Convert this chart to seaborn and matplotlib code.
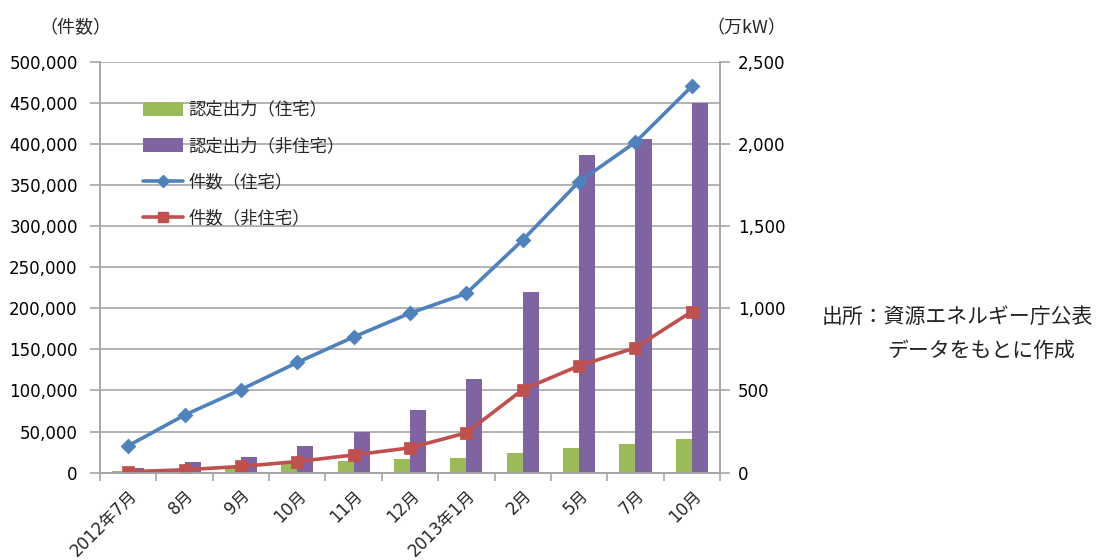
import matplotlib
matplotlib.use("Agg")
import matplotlib.pyplot as plt
import seaborn as sns
import pandas as pd
from matplotlib.patches import Patch
from matplotlib.lines import Line2D
from matplotlib.ticker import FuncFormatter, MultipleLocator

# ---- data ----
months = ["2012年7月", "8月", "9月", "10月", "11月", "12月", "2013年1月", "2月", "5月", "7月", "10月"]
out_res = [9, 23, 38, 58, 73, 82, 92, 120, 149, 172, 202]            # 認定出力（住宅） 万kW
out_nonres = [27, 66, 96, 162, 250, 380, 570, 1096, 1930, 2028, 2249]  # 認定出力（非住宅） 万kW
cnt_res = [32600, 70000, 101000, 134000, 165000, 194000, 218000, 283000, 354000, 402000, 470000]
cnt_nonres = [1000, 3500, 7500, 13500, 21500, 30200, 48400, 101000, 130000, 152000, 196000]
series_bar = ["認定出力（住宅）", "認定出力（非住宅）"]
series_line = ["件数（住宅）", "件数（非住宅）"]
left_ticks = list(range(0, 500001, 50000))
right_ticks = list(range(0, 2501, 500))

C_GREEN = "#9BBB59"
C_PURPLE = "#8064A2"
C_BLUE = "#4F81BD"
C_RED = "#C0504D"
GRID = "#A6A6A6"
NUMFONT = ["DejaVu Sans", "Noto Sans CJK JP"]
CJK = ["Noto Sans CJK JP", "DejaVu Sans"]

sns.set_theme(style="white")
plt.rcParams["font.family"] = CJK

keys = list(range(len(months)))  # unique category keys (month names repeat)
bars = pd.DataFrame({
    "key": keys * 2,
    "value": out_res + out_nonres,
    "series": [series_bar[0]] * len(months) + [series_bar[1]] * len(months),
})
lines = pd.DataFrame({
    "key": keys * 2,
    "value": cnt_res + cnt_nonres,
    "series": [series_line[0]] * len(months) + [series_line[1]] * len(months),
})

fig = plt.figure(figsize=(11.02, 5.60), dpi=100)
ax = fig.add_axes([0.0907, 0.156, 0.5627, 0.734])

# bars on host axes (right-hand scale)
sns.barplot(data=bars, x="key", y="value", hue="series", order=keys,
            hue_order=series_bar, palette=[C_GREEN, C_PURPLE], width=0.57,
            gap=0, saturation=1, legend=False, ax=ax, linewidth=0, errorbar=None)
ax.set_ylim(0, 2500)
ax.set_xlim(-0.5, len(months) - 0.5)
ax.set_xlabel("")
ax.set_ylabel("")

# lines on twin axes (left-hand scale)
ax2 = ax.twinx()
sns.pointplot(data=lines, x="key", y="value", hue="series", order=keys,
              hue_order=series_line, palette=[C_BLUE, C_RED], markers=["D", "s"],
              linestyles=["-", "-"], markersize=6.5, linewidth=2.6,
              legend=False, ax=ax2, errorbar=None)
ax2.set_ylim(0, 500000)
ax2.set_xlim(-0.5, len(months) - 0.5)
ax2.set_ylabel("")
ax2.set_xlabel("")
ax2.grid(False)

# host: right scale
ax.yaxis.tick_right()
ax.set_yticks(right_ticks)
ax.yaxis.set_minor_locator(MultipleLocator(250))
ax.yaxis.set_major_formatter(FuncFormatter(lambda v, p: f"{int(v):,}"))
ax.grid(True, axis="y", which="both", color=GRID, linewidth=1.2)
ax.set_axisbelow(True)
ax.tick_params(axis="y", which="major", right=True, left=False, labelright=True,
               labelleft=False, length=7, color=GRID, labelsize=12, pad=6,
               labelcolor="black", width=1.2)
ax.tick_params(axis="y", which="minor", right=False, left=False, length=0)
for lab in ax.get_yticklabels():
    lab.set_fontfamily(NUMFONT)

# twin: left scale
ax2.yaxis.tick_left()
ax2.set_yticks(left_ticks)
ax2.yaxis.set_major_formatter(FuncFormatter(lambda v, p: f"{int(v):,}"))
ax2.tick_params(axis="y", which="major", left=True, right=False, labelleft=True,
                labelright=False, length=7, color=GRID, labelsize=12, pad=9,
                labelcolor="black", width=1.2)
for lab in ax2.get_yticklabels():
    lab.set_fontfamily(NUMFONT)

for a in (ax, ax2):
    for s in a.spines.values():
        s.set_color(GRID)
        s.set_linewidth(1.2)
    a.spines["top"].set_visible(False)

# x ticks: marks between categories, labels at centers
ax.set_xticks(keys)
ax.set_xticklabels(months, rotation=45, ha="right", va="top",
                   rotation_mode="anchor", fontsize=12)
for lab in ax.get_xticklabels():
    lab.set_fontfamily(NUMFONT)
ax.tick_params(axis="x", which="major", length=0, pad=10)
ax.set_xticks([k - 0.5 for k in keys] + [len(keys) - 0.5], minor=True)
ax.tick_params(axis="x", which="minor", bottom=True, length=6, color=GRID, width=1.2)
ax2.tick_params(axis="x", bottom=False, labelbottom=False)

# legend
handles = [
    Patch(facecolor=C_GREEN, edgecolor="none"),
    Patch(facecolor=C_PURPLE, edgecolor="none"),
    Line2D([], [], color=C_BLUE, marker="D", markersize=6.5, linewidth=2.6),
    Line2D([], [], color=C_RED, marker="s", markersize=6.5, linewidth=2.6),
]
ax2.legend(handles, series_bar + series_line, loc="upper left",
           bbox_to_anchor=(0.056, 0.926), frameon=False, fontsize=12.5,
           handlelength=2.3, handleheight=0.9, labelspacing=1.05,
           handletextpad=0.3, borderpad=0)

# axis unit labels
fig.text(0.036, 0.95, "（件数）", fontsize=13, ha="left", va="center")
fig.text(0.641, 0.95, "（万kW）", fontsize=13, ha="left", va="center")

# source note
fig.text(0.746, 0.434, "出所：資源エネルギー庁公表", fontsize=15, ha="left", va="center",
         color="#222222")
fig.text(0.805, 0.373, "データをもとに作成", fontsize=15, ha="left", va="center",
         color="#222222")

fig.savefig("out.png", dpi=100)
